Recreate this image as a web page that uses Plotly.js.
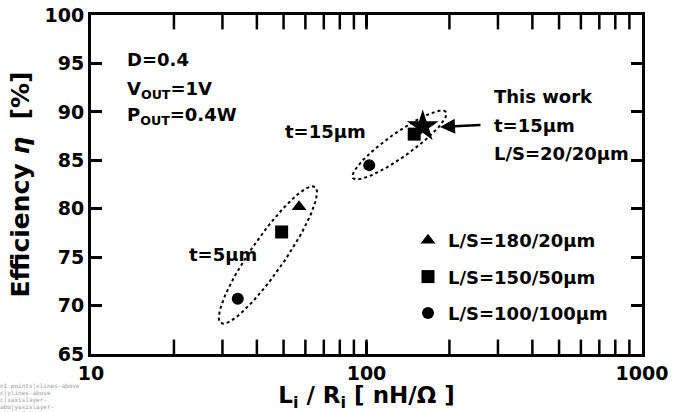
<!DOCTYPE html>
<html>
<head>
<meta charset="utf-8">
<script src="https://cdn.plot.ly/plotly-3.0.1.min.js"></script>
<style>html,body{margin:0;padding:0;background:#fff;}#chart{width:697px;height:412px;}#dbg{position:absolute;left:0;top:382px;width:80px;font:6px monospace;color:#999;white-space:pre-wrap;overflow:hidden;height:30px;}</style>
</head>
<body>
<div id="chart"></div>
<div id="dbg"></div>
<script>
// ---- data ----
const seriesNames = ['L/S=180/20µm', 'L/S=150/50µm', 'L/S=100/100µm'];
const triX = [56.9];
const triY = [80.2];
const sqX = [49.2, 149];
const sqY = [77.6, 87.7];
const ciX = [34.1, 102.3];
const ciY = [70.7, 84.5];
const starX = [160];
const starY = [88.5];

const xTickVals = [10, 100, 1000];
const xTickText = ['10', '100', '1000'];
const xMarkVals = [20, 30, 40, 50, 60, 70, 80, 90, 100, 200, 300, 400, 500, 600, 700, 800, 900];
const yTickVals = [65, 70, 75, 80, 85, 90, 95, 100];

// group ellipses (major-axis end points in data units, half width in px)
const ellipseT5 = {xa: 29.6, ya: 68.2, xb: 65.0, yb: 82.24, halfW: 17};
const ellipseT15 = {xa: 89.3, ya: 83.17, xb: 194.4, yb: 89.99, halfW: 12};

// ---- layout geometry ----
const W = 697, H = 412;
const ML = 91, MR = 55, MT = 15, MB = 58;
const plotW = W - ML - MR, plotH = H - MT - MB;
const xr = [1, 3], yr = [65, 100];
const yPerPx = (yr[1] - yr[0]) / plotH;
const TICK = 12;

function ellipsePts(e) {
  const toPx = (x, y) => [(Math.log10(x) - xr[0]) / (xr[1] - xr[0]) * plotW, (y - yr[0]) / (yr[1] - yr[0]) * plotH];
  const [ax, ay] = toPx(e.xa, e.ya), [bx, by] = toPx(e.xb, e.yb);
  const cx = (ax + bx) / 2, cy = (ay + by) / 2;
  const a = Math.hypot(bx - ax, by - ay) / 2;
  const th = Math.atan2(by - ay, bx - ax);
  const xs = [], ys = [];
  for (let i = 0; i <= 120; i++) {
    const t = i / 120 * 2 * Math.PI;
    const u = a * Math.cos(t), v = e.halfW * Math.sin(t);
    const px = cx + u * Math.cos(th) - v * Math.sin(th);
    const py = cy + u * Math.sin(th) + v * Math.cos(th);
    xs.push(Math.pow(10, xr[0] + px / plotW * (xr[1] - xr[0])));
    ys.push(yr[0] + py / plotH * (yr[1] - yr[0]));
  }
  return {xs, ys};
}

const FONT = 'DejaVu Sans, Arial, sans-serif';
const e1 = ellipsePts(ellipseT5), e2 = ellipsePts(ellipseT15);

// x tick marks drawn as vertical-line markers, centred half a tick inside each edge
const tickMarkX = xMarkVals.concat(xMarkVals);
const tickMarkY = xMarkVals.map(() => yr[0] + TICK / 2 * yPerPx).concat(xMarkVals.map(() => yr[1] - TICK / 2 * yPerPx));

const traces = [
  {x: e1.xs, y: e1.ys, mode: 'lines', line: {color: '#000', width: 2, dash: 'dot'}, showlegend: false, hoverinfo: 'skip'},
  {x: e2.xs, y: e2.ys, mode: 'lines', line: {color: '#000', width: 2, dash: 'dot'}, showlegend: false, hoverinfo: 'skip'},
  {x: tickMarkX, y: tickMarkY, mode: 'markers', showlegend: false, hoverinfo: 'skip', cliponaxis: false,
   marker: {symbol: 'line-ns', size: TICK, color: '#000', line: {color: '#000', width: 2.5}}},
  {x: triX, y: triY, name: seriesNames[0], mode: 'markers', legendgroup: 'a',
   marker: {symbol: 'triangle-up', size: 13, color: '#000'}},
  {x: sqX, y: sqY, name: seriesNames[1], mode: 'markers', legendgroup: 'b',
   marker: {symbol: 'square', size: 13, color: '#000'}},
  {x: ciX, y: ciY, name: seriesNames[2], mode: 'markers', legendgroup: 'c',
   marker: {symbol: 'circle', size: 12, color: '#000'}},
  {x: starX, y: starY, name: 'This work', mode: 'markers', showlegend: false,
   marker: {symbol: 'star', size: 24, color: '#000'}}
];

const px2paperX = p => (p - ML) / plotW;
const px2paperY = p => (H - MB - p) / plotH;
function txt(text, lx, cy) {
  return {text: text, xref: 'paper', yref: 'paper', x: px2paperX(lx), y: px2paperY(cy),
    xanchor: 'left', yanchor: 'middle', showarrow: false,
    font: {family: FONT, size: 18, color: '#000', weight: 'bold'}};
}

const layout = {
  width: W, height: H,
  margin: {l: ML, r: MR, t: MT, b: MB},
  font: {family: FONT, size: 18, color: '#000', weight: 'bold'},
  showlegend: true,
  legend: {x: px2paperX(408), y: px2paperY(222), xanchor: 'left', yanchor: 'top',
    bgcolor: 'rgba(0,0,0,0)', traceorder: 'grouped', tracegroupgap: 10,
    font: {family: FONT, size: 18, color: '#000', weight: 'bold'}},
  xaxis: {
    type: 'log', range: xr,
    tickmode: 'array', tickvals: xTickVals, ticktext: xTickText,
    ticks: 'inside', ticklen: TICK, tickwidth: 2.5, tickcolor: '#000',
    showline: true, linewidth: 3, linecolor: '#000', mirror: 'ticks',
    showgrid: false, zeroline: false,
    tickfont: {family: FONT, size: 19, color: '#000', weight: 'bold'},
    title: {text: 'L<sub>i</sub> / R<sub>i</sub> [ nH/Ω ]', standoff: 3,
      font: {family: FONT, size: 23, color: '#000', weight: 'bold'}}
  },
  yaxis: {
    range: yr, tickmode: 'array', tickvals: yTickVals,
    ticks: 'inside', ticklen: 11, tickwidth: 3, tickcolor: '#000',
    showline: true, linewidth: 3, linecolor: '#000', mirror: 'ticks',
    showgrid: false, zeroline: false,
    tickfont: {family: FONT, size: 19, color: '#000', weight: 'bold'},
    title: {text: 'Efficiency <i>η</i>  [%]', standoff: 8,
      font: {family: FONT, size: 25, color: '#000', weight: 'bold'}}
  },
  annotations: [
    txt('D=0.4', 125, 59),
    txt('V<sub>OUT</sub>=1V', 125, 90),
    txt('P<sub>OUT</sub>=0.4W', 125, 116),
    txt('t=15µm', 283, 131),
    txt('t=5µm', 187, 254),
    txt('This work', 492, 97),
    txt('t=15µm', 492, 125),
    txt('L/S=20/20µm', 492, 153),
    {text: '', xref: 'paper', yref: 'paper', x: px2paperX(440), y: px2paperY(127),
     showarrow: true, arrowhead: 2, arrowsize: 1.2, arrowwidth: 2.5, arrowcolor: '#000',
     ax: 42, ay: -2, standoff: 0}
  ]
};

Plotly.newPlot('chart', traces, layout, {displayModeBar: false, staticPlot: true}).then(() => {
  try {
    const hits = [];
    document.querySelectorAll('#chart svg *').forEach(el => {
      if (!el.getBoundingClientRect) return;
      const r = el.getBoundingClientRect();
      if (r.left <= 366 && r.right >= 366 && r.top <= 347 && r.bottom >= 347 && r.width < 700) {
        hits.push((el.getAttribute('class') || el.tagName).slice(0, 14));
      }
    });
    const nx = document.querySelectorAll('#chart path.xtick').length;
    document.getElementById('dbg').textContent = 'n' + nx + ' ' + hits.slice(-6).join('|');
  } catch (err) { document.getElementById('dbg').textContent = String(err).slice(0, 60); }
});
</script>
</body>
</html>
